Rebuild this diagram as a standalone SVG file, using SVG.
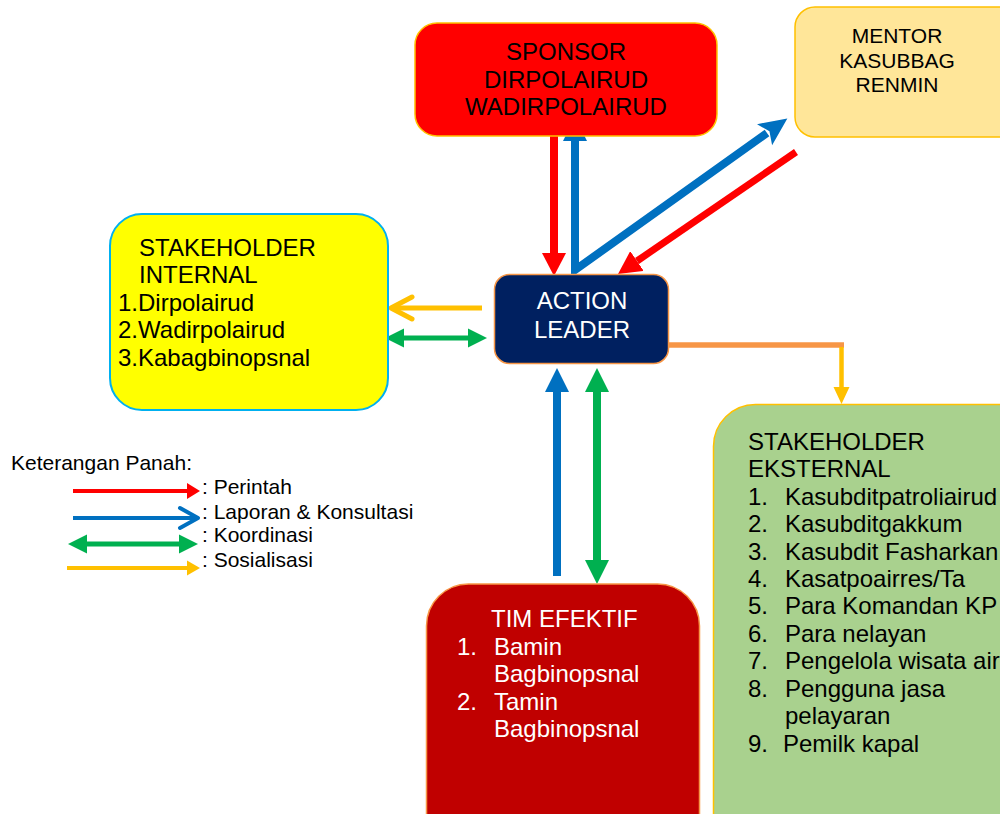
<svg xmlns="http://www.w3.org/2000/svg" width="1000" height="814" viewBox="0 0 1000 814">
<style>
text{font-family:"Liberation Sans",Arial,sans-serif;}
.big{font-size:24px;}
.mid{font-size:21px;}
.leg{font-size:21px;fill:#000;}
.blk{fill:#000;}
.wht{fill:#fff;}
.c{text-anchor:middle;}
.ln{fill:none;stroke-linejoin:miter;}
</style>
<defs>
<marker id="hRed" markerUnits="userSpaceOnUse" viewBox="0 -12 24 24" markerWidth="24" markerHeight="24" refX="0" refY="0" orient="auto"><path d="M0,-12 L23,0 L0,12 z" fill="#FF0000"/></marker>
<marker id="hBlue" markerUnits="userSpaceOnUse" viewBox="-4 -14 30 28" markerWidth="30" markerHeight="28" refX="0" refY="0" orient="auto-start-reverse"><path d="M-3,-13 L25,0 L-3,13 L3,0 z" fill="#0070C0"/></marker>
<marker id="hBlueV" markerUnits="userSpaceOnUse" viewBox="0 -12 24 24" markerWidth="24" markerHeight="24" refX="0" refY="0" orient="auto-start-reverse"><path d="M0,-12 L24,0 L0,12 z" fill="#0070C0"/></marker>
<marker id="hGreen" markerUnits="userSpaceOnUse" viewBox="0 -12 24 24" markerWidth="24" markerHeight="24" refX="0" refY="0" orient="auto-start-reverse"><path d="M0,-12 L24,0 L0,12 z" fill="#00B050"/></marker>
<marker id="hGreenS" markerUnits="userSpaceOnUse" viewBox="0 -10 20 20" markerWidth="20" markerHeight="20" refX="0" refY="0" orient="auto-start-reverse"><path d="M0,-9.5 L19,0 L0,9.5 z" fill="#00B050"/></marker>
<marker id="hYel" markerUnits="userSpaceOnUse" viewBox="0 -9 18 18" markerWidth="18" markerHeight="18" refX="0" refY="0" orient="auto"><path d="M0,-8 L17,0 L0,8 z" fill="#FFC000"/></marker>
<marker id="hYelS" markerUnits="userSpaceOnUse" viewBox="0 -8 14 16" markerWidth="14" markerHeight="16" refX="0" refY="0" orient="auto"><path d="M0,-7.5 L13,0 L0,7.5 z" fill="#FFC000"/></marker>
<marker id="hRedS" markerUnits="userSpaceOnUse" viewBox="0 -9 14 18" markerWidth="14" markerHeight="18" refX="0" refY="0" orient="auto"><path d="M0,-8 L13,0 L0,8 z" fill="#FF0000"/></marker>
<marker id="chYel" markerUnits="userSpaceOnUse" viewBox="-26 -14 30 28" markerWidth="30" markerHeight="28" refX="0" refY="0" orient="auto"><path d="M-21,-11 L0,0 L-21,11" fill="none" stroke="#FFC000" stroke-width="5" stroke-linecap="round" stroke-linejoin="round"/></marker>
<marker id="chBlue" markerUnits="userSpaceOnUse" viewBox="-24 -13 28 26" markerWidth="28" markerHeight="26" refX="0" refY="0" orient="auto"><path d="M-18,-10 L0,0 L-18,10" fill="none" stroke="#0070C0" stroke-width="4" stroke-linecap="round" stroke-linejoin="round"/></marker>
</defs>

<g id="connectors">
<path class="ln" d="M554,136 V253" stroke="#FF0000" stroke-width="8" marker-end="url(#hRed)"/>
<path class="ln" d="M575,141 V270 L767,133" stroke="#0070C0" stroke-width="8" marker-start="url(#hBlueV)" marker-end="url(#hBlue)"/>
<path class="ln" d="M796,152 L637,261" stroke="#FF0000" stroke-width="7" marker-end="url(#hRed)"/>
<path class="ln" d="M482,308 H391" stroke="#FFC000" stroke-width="5" marker-end="url(#chYel)"/>
<path class="ln" d="M404,338 H468" stroke="#00B050" stroke-width="5" marker-start="url(#hGreenS)" marker-end="url(#hGreenS)"/>
<path class="ln" d="M669,345 H844" stroke="#F79646" stroke-width="5.5"/>
<path class="ln" d="M841.5,347 V387" stroke="#FFC000" stroke-width="4.5" marker-end="url(#hYel)"/>
<path class="ln" d="M557,576 V392" stroke="#0070C0" stroke-width="8" marker-end="url(#hBlueV)"/>
<path class="ln" d="M597,392 V560" stroke="#00B050" stroke-width="8" marker-start="url(#hGreen)" marker-end="url(#hGreen)"/>
</g>

<g id="sponsor">
<rect x="415" y="23" width="302" height="113" rx="22" fill="#FF0000" stroke="#FFC000" stroke-width="1.5"/>
<text class="big blk c" x="566" y="60">SPONSOR</text>
<text class="big blk c" x="566" y="87.5">DIRPOLAIRUD</text>
<text class="big blk c" x="566" y="115">WADIRPOLAIRUD</text>
</g>

<g id="mentor">
<rect x="795" y="7" width="230" height="130" rx="20" fill="#FFE699" stroke="#FFC000" stroke-width="1.5"/>
<text class="mid blk c" x="897" y="43">MENTOR</text>
<text class="mid blk c" x="897" y="67.5">KASUBBAG</text>
<text class="mid blk c" x="897" y="92">RENMIN</text>
</g>

<g id="action-leader">
<rect x="494.5" y="274.5" width="174" height="89" rx="15" fill="#002060" stroke="#F79646" stroke-width="1.5"/>
<text class="big wht c" x="582" y="309">ACTION</text>
<text class="big wht c" x="582" y="338">LEADER</text>
</g>

<g id="stakeholder-internal">
<rect x="110" y="214" width="278" height="196" rx="32" fill="#FFFF00" stroke="#00B0F0" stroke-width="2"/>
<text class="big blk" x="139" y="255.5">STAKEHOLDER</text>
<text class="big blk" x="139" y="283">INTERNAL</text>
<text class="big blk" x="118" y="310.5">1.Dirpolairud</text>
<text class="big blk" x="118" y="338">2.Wadirpolairud</text>
<text class="big blk" x="118" y="365.5">3.Kabagbinopsnal</text>
</g>

<g id="stakeholder-eksternal">
<rect x="713.5" y="404.5" width="330" height="460" rx="42" fill="#A9D18E" stroke="#FFC000" stroke-width="1.5"/>
<text class="big blk" x="748" y="450">STAKEHOLDER</text>
<text class="big blk" x="748" y="477">EKSTERNAL</text>
<text class="big blk" x="748" y="504.5">1.</text><text class="big blk" x="785" y="504.5">Kasubditpatroliairud</text>
<text class="big blk" x="748" y="532">2.</text><text class="big blk" x="785" y="532">Kasubditgakkum</text>
<text class="big blk" x="748" y="559.5">3.</text><text class="big blk" x="785" y="559.5">Kasubdit Fasharkan</text>
<text class="big blk" x="748" y="587">4.</text><text class="big blk" x="785" y="587">Kasatpoairres/Ta</text>
<text class="big blk" x="748" y="614">5.</text><text class="big blk" x="785" y="614">Para Komandan KP</text>
<text class="big blk" x="748" y="641.5">6.</text><text class="big blk" x="785" y="641.5">Para nelayan</text>
<text class="big blk" x="748" y="669">7.</text><text class="big blk" x="785" y="669">Pengelola wisata air</text>
<text class="big blk" x="748" y="696.5">8.</text><text class="big blk" x="785" y="696.5">Pengguna jasa</text>
<text class="big blk" x="785" y="724">pelayaran</text>
<text class="big blk" x="748" y="751.5">9.</text><text class="big blk" x="783" y="751.5">Pemilk kapal</text>
</g>

<g id="tim-efektif">
<rect x="426.5" y="584" width="273" height="280" rx="42" fill="#C00000" stroke="#F79646" stroke-width="1.5"/>
<text class="big wht" x="491" y="627">TIM EFEKTIF</text>
<text class="big wht" x="457" y="654.5">1.</text><text class="big wht" x="494" y="654.5">Bamin</text>
<text class="big wht" x="494" y="682">Bagbinopsnal</text>
<text class="big wht" x="457" y="709.5">2.</text><text class="big wht" x="494" y="709.5">Tamin</text>
<text class="big wht" x="494" y="737">Bagbinopsnal</text>
</g>

<g id="legend">
<text class="leg" x="11" y="470">Keterangan Panah:</text>
<path class="ln" d="M73,491 H187" stroke="#FF0000" stroke-width="4" marker-end="url(#hRedS)"/>
<path class="ln" d="M73,518 H198" stroke="#0070C0" stroke-width="4" marker-end="url(#chBlue)"/>
<path class="ln" d="M87,544 H179" stroke="#00B050" stroke-width="5" marker-start="url(#hGreenS)" marker-end="url(#hGreenS)"/>
<path class="ln" d="M67,568 H187" stroke="#FFC000" stroke-width="4" marker-end="url(#hYelS)"/>
<text class="leg" x="202" y="494">: Perintah</text>
<text class="leg" x="202" y="519">: Laporan &amp; Konsultasi</text>
<text class="leg" x="202" y="542">: Koordinasi</text>
<text class="leg" x="202" y="567">: Sosialisasi</text>
</g>
</svg>
